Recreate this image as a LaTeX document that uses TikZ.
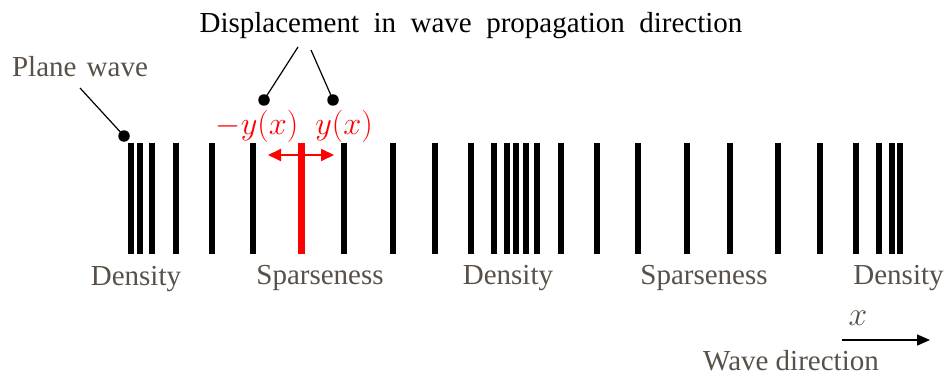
\documentclass[tikz,border=0pt]{standalone}
\usepackage{fontspec}
\usepackage{graphicx}
\setmainfont{Liberation Serif}
\usetikzlibrary{arrows.meta}
\definecolor{lbl}{RGB}{89,80,71}
\definecolor{wred}{RGB}{255,0,0}
\tikzset{
  barnode/.style={fill=black,draw=none,inner sep=0pt,minimum width=6pt,minimum height=111pt},
  redbar/.style={fill=wred,draw=none,inner sep=0pt,minimum width=7pt,minimum height=111pt},
  dotnode/.style={circle,fill=black,inner sep=0pt,minimum size=11.5pt},
  lbltext/.style={text=lbl,font=\fontsize{29}{34}\selectfont,inner sep=0pt,anchor=base},
  titletext/.style={text=black,font=\fontsize{29}{34}\selectfont,inner sep=0pt,anchor=base},
  mathred/.style={text=wred,font=\fontsize{24.88}{30}\selectfont,inner sep=0pt,anchor=base},
  pointer/.style={draw=black,line width=1.2pt},
}
\begin{document}
\begin{tikzpicture}[x=1pt,y=-1pt]
\useasboundingbox (0,0) rectangle (949,377);
% bars
\foreach \xx [count=\i] in {130.7,140.3,151.7,176,212,253,344.3,392.7,435,471,494.3,506.7,516,525.7,537,561.3,597.3,638.3,686.7,729.7,778,820.3,856.3,879.3,891.7,900}
  \node[barnode] (b\i) at (\xx,198) {};
\node[redbar] (rb) at (301.3,198) {};
% red double arrow
\coordinate (al) at (268,155);
\coordinate (ar) at (334,155);
\draw[wred,line width=2pt,{Triangle[length=13pt,width=12pt]}-{Triangle[length=13pt,width=12pt]}] (al) -- (ar);
% labels
\node[titletext] (title) at (471,33) {Displacement\hspace{0.5em}in\hspace{0.5em}wave\hspace{0.5em}propagation\hspace{0.5em}direction};
\node[lbltext] (pw) at (80,77) {Plane\hspace{0.35em}wave};
\node[lbltext] (den1) at (136,285) {Density};
\node[lbltext] (sp1) at (320,284) {Sparseness};
\node[lbltext] (den2) at (508,284) {Density};
\node[lbltext] (sp2) at (704,284) {Sparseness};
\node[lbltext] (den3) at (898.5,284) {Density};
\node[mathred] (my) at (257,134) {\scalebox{1.3}{$-y(x)$}};
\node[mathred] (py) at (344,134) {\scalebox{1.3}{$y(x)$}};
% dots and pointers
\node[dotnode] (d0) at (124,136) {};
\node[dotnode] (d1) at (264,100) {};
\node[dotnode] (d2) at (333,100) {};
\coordinate (p0) at (80,88);
\coordinate (p1) at (298,47);
\coordinate (p2) at (311,50);
\draw[pointer] (p0) -- (d0.center);
\draw[pointer] (p1) -- (d1.center);
\draw[pointer] (p2) -- (d2.center);
% wave direction
\node[lbltext,font=\fontsize{24.88}{30}\selectfont] (xl) at (858,325) {\scalebox{1.35}{$x$}};
\coordinate (wa) at (842,340);
\coordinate (wb) at (930,340);
\draw[line width=1.5pt,-{Triangle[length=13pt,width=11pt]}] (wa) -- (wb);
\node[lbltext] (wd) at (791,370) {Wave direction};
\end{tikzpicture}
\end{document}
